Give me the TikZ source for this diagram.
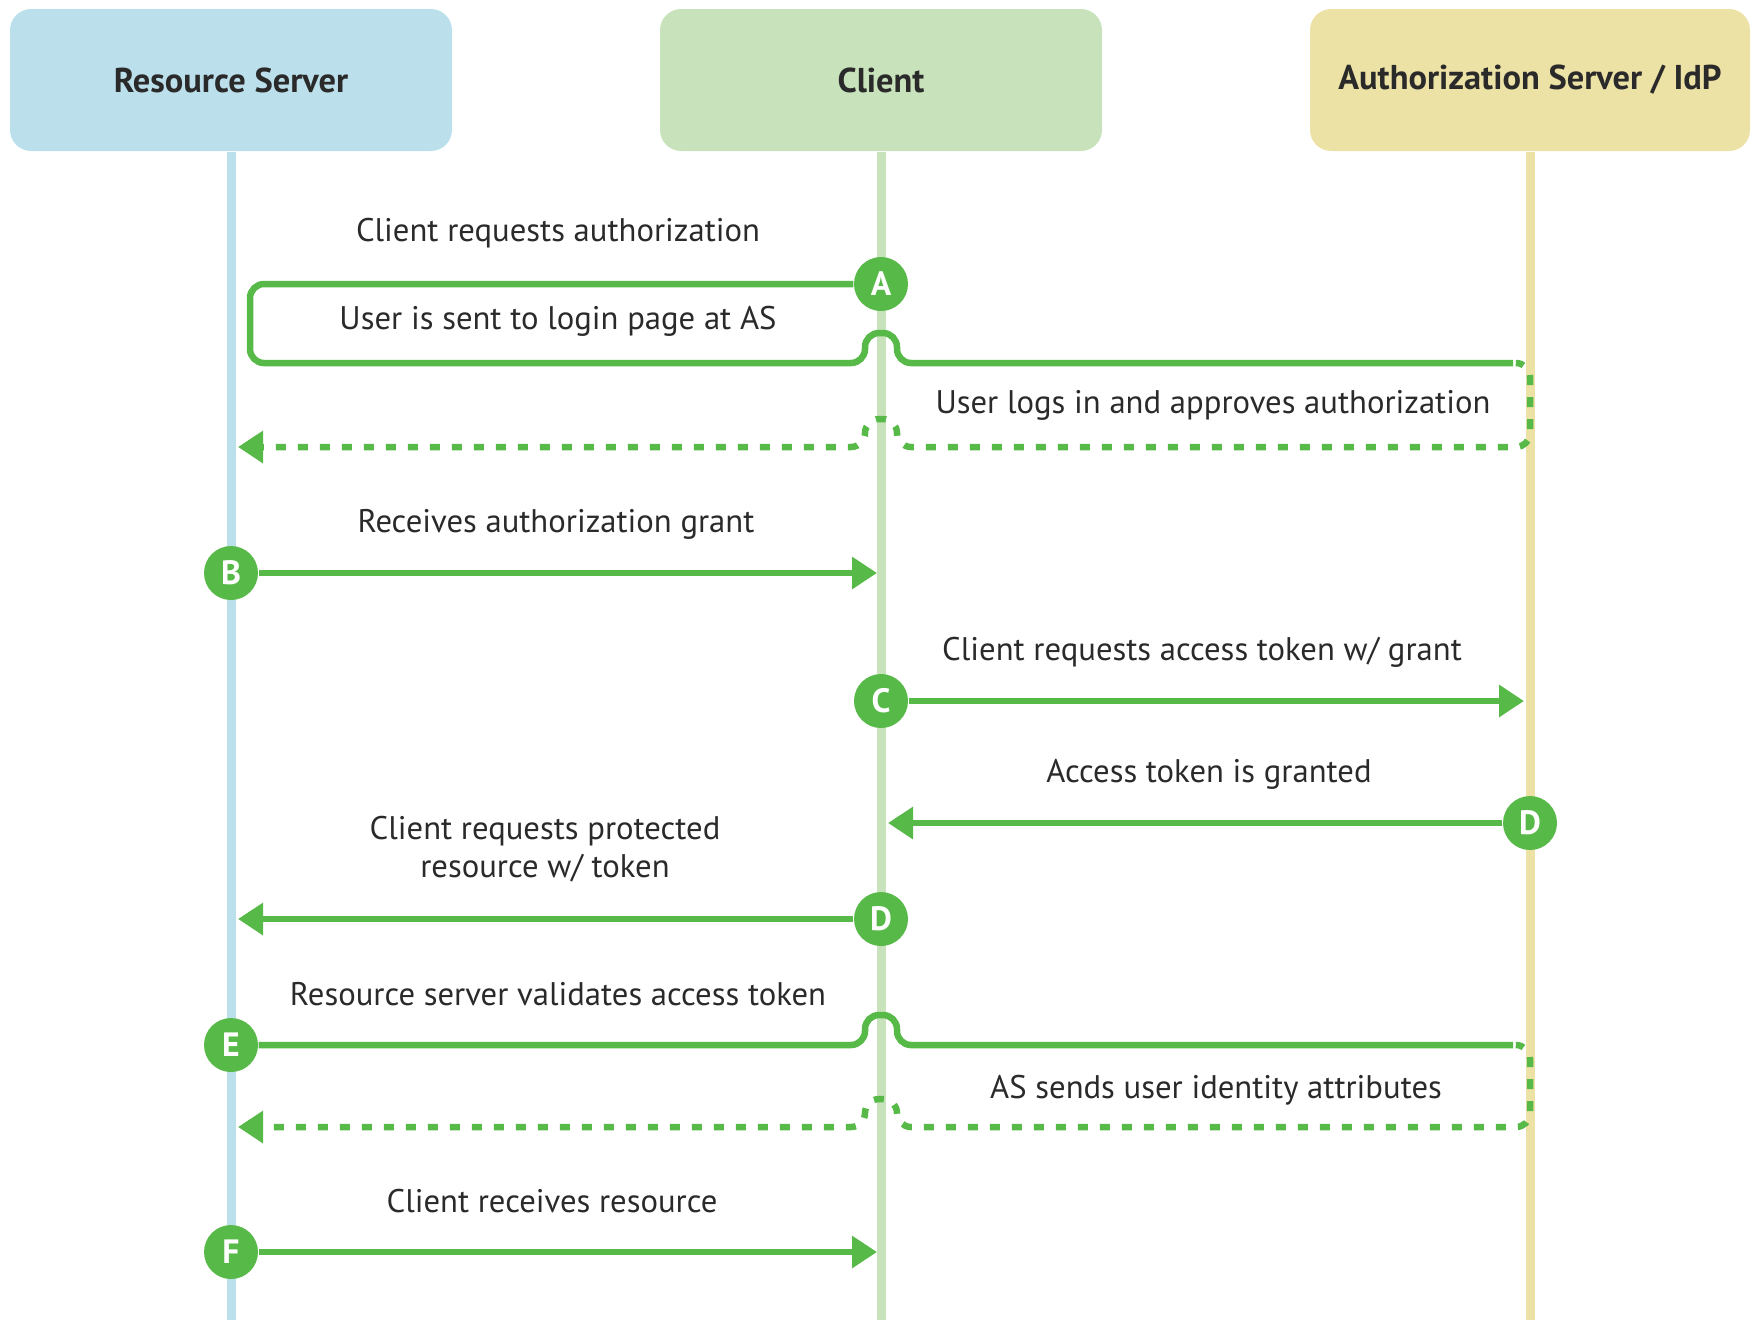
\documentclass[tikz,border=0pt]{standalone}
\usepackage{fontspec}
\setmainfont{PT Sans}
\usepackage{tikz}
\usetikzlibrary{arrows.meta,calc,positioning}

\begin{document}
\begin{tikzpicture}[x=0.1mm,y=-0.1mm,font=\fontsize{9.3}{10.8}\selectfont]
%% colors and styles
\definecolor{rsblue}{HTML}{BCE0EB}
\definecolor{clgreen}{HTML}{C8E3BC}
\definecolor{asyellow}{HTML}{EDE2A5}
\definecolor{flowgreen}{HTML}{57B947}
\definecolor{txtgray}{HTML}{2A2A2A}
\tikzstyle{actor}=[rectangle,rounded corners=6pt,minimum height=14.2mm,minimum width=44.2mm,inner sep=0pt,font=\fontsize{9.8}{10}\selectfont\bfseries,text=txtgray]
\tikzstyle{life}=[line width=0.9mm]
\tikzstyle{stepnode}=[circle,fill=flowgreen,minimum size=5.4mm,inner sep=0pt,text=white,font=\fontsize{9.6}{10}\selectfont\bfseries]
\tikzstyle{msg}=[text=txtgray,inner sep=0pt,align=center]
\tikzstyle{flow}=[draw=flowgreen,line width=0.65mm,rounded corners=4pt]
\tikzstyle{dots}=[flow,dash pattern=on 1mm off 1.2mm]
\tikzstyle{tip}=[-{Triangle[length=2.5mm,width=3.1mm]}]

\useasboundingbox (0,0) rectangle (1751,1320);
%%%%%%%%%%%%%%%%%%%%%%%%%%%%%%%%%%%%%%%%%%%%%%%%%%%%%%%%%%%%%%%%%%%%%%%%
%ACTORS
\node[actor,fill=rsblue] (rs) at (231,80) {Resource Server};
\node[actor,fill=clgreen] (client) at (881,80) {Client};
\node[actor,fill=asyellow,minimum width=44mm] (as) at (1530,80) {Authorization Server / IdP};

%lifelines
\draw[life,rsblue] (rs.south) -- (rs.south |- 0,1320);
\draw[life,clgreen] (client.south) -- (client.south |- 0,1320);
\draw[life,asyellow] (as.south) -- (as.south |- 0,1320);

%%%%%%%%%%%%%%%%%%%%%%%%%%%%%%%%%%%%%%%%%%%%%%%%%%%%%%%%%%%%%%%%%%%%%%%%
%STEPS
\node[stepnode] (stepA) at (881,284) {A};
\node[stepnode] (stepB) at (231,573) {B};
\node[stepnode] (stepC) at (881,701) {C};
\node[stepnode] (stepD) at (1530,823) {D};
\node[stepnode] (stepD2) at (881,919) {D};
\node[stepnode] (stepE) at (231,1045) {E};
\node[stepnode] (stepF) at (231,1252) {F};

%MESSAGES
\node[msg] (msg1) at (558,233) {Client requests authorization};
\node[msg] (msg2) at (558,321) {User is sent to login page at AS};
\node[msg] (msg3) at (1213,405) {User logs in and approves authorization};
\node[msg] (msg4) at (556,524) {Receives authorization grant};
\node[msg] (msg5) at (1202,652) {Client requests access token w/ grant};
\node[msg] (msg6) at (1209,774) {Access token is granted};
\node[msg] (msg7) at (545,849) {Client requests protected\\resource w/ token};
\node[msg] (msg8) at (558,994) {Resource server validates access token};
\node[msg] (msg9) at (1216,1090) {AS sends user identity attributes};
\node[msg] (msg10) at (552,1201) {Client receives resource};

%%%%%%%%%%%%%%%%%%%%%%%%%%%%%%%%%%%%%%%%%%%%%%%%%%%%%%%%%%%%%%%%%%%%%%%%
%ARROWS
\coordinate (retA) at (238,447);
\coordinate (retE) at (238,1127);

%A loop
\draw[flow] (stepA) -- (250,284) -- (250,363) -- (865,363) -- (865,333) -- (897,333) -- (897,363) -- (1513,363);
\draw[dots,tip] (1518,363) -- (1530,363) -- (1530,447) -- (897,447) -- (897,419) -- (865,419) -- (865,447) -- (retA);

%B, C, D
\draw[flow,tip,shorten >=0.4mm] (stepB) -- (stepB -| client);
\draw[flow,tip,shorten >=0.6mm] (stepC) -- (stepC -| as);
\draw[flow,tip,shorten >=0.7mm] (stepD) -- (stepD -| client);
\draw[flow,tip,shorten >=0.7mm] (stepD2) -- (stepD2 -| rs);

%E loop
\draw[flow] (stepE) -- (865,1045) -- (865,1015) -- (897,1015) -- (897,1045) -- (1513,1045);
\draw[dots,tip] (1518,1045) -- (1530,1045) -- (1530,1127) -- (897,1127) -- (897,1099) -- (865,1099) -- (865,1127) -- (retE);

%F
\draw[flow,tip,shorten >=0.4mm] (stepF) -- (stepF -| client);
\end{tikzpicture}
\end{document}
